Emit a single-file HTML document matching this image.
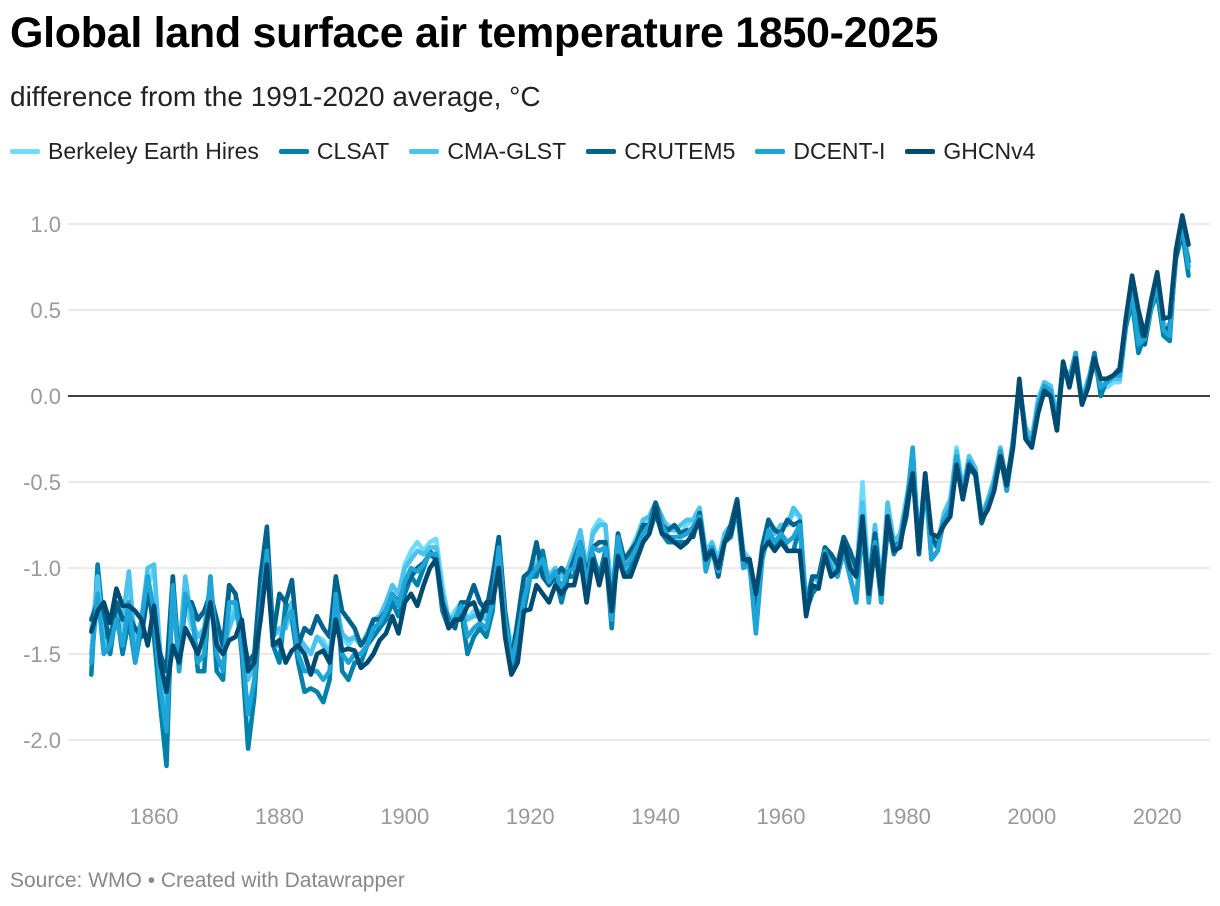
<!DOCTYPE html>
<html><head><meta charset="utf-8">
<style>
body{margin:0;width:1220px;height:906px;background:#fff;font-family:"Liberation Sans",Arial,sans-serif;overflow:hidden;position:relative}
#title{position:absolute;left:10px;top:9px;font-size:43px;font-weight:bold;color:#000;letter-spacing:-0.3px}
#subtitle{position:absolute;left:10px;top:81px;font-size:28px;color:#222}
#legend{position:absolute;left:10px;top:138px;font-size:23px;color:#222;display:flex;gap:20px}
.li{display:flex;align-items:center}
.sw{width:30px;height:5px;margin-right:8px;border-radius:2px}
#source{position:absolute;left:10px;top:869px;font-size:21px;color:#888}
svg{position:absolute;left:0;top:0}
</style></head><body>
<div id="title">Global land surface air temperature 1850-2025</div>
<div id="subtitle">difference from the 1991-2020 average, °C</div>
<div id="legend">
<div class="li"><span class="sw" style="background:#6fdcfd"></span>Berkeley Earth Hires</div>
<div class="li"><span class="sw" style="background:#0082aa"></span>CLSAT</div>
<div class="li"><span class="sw" style="background:#4cc3ee"></span>CMA-GLST</div>
<div class="li"><span class="sw" style="background:#00648d"></span>CRUTEM5</div>
<div class="li"><span class="sw" style="background:#1ea4d6"></span>DCENT-I</div>
<div class="li"><span class="sw" style="background:#004b72"></span>GHCNv4</div>
</div>
<svg id="chart" width="1220" height="906"></svg>
<div id="source">Source: WMO • Created with Datawrapper</div>
<script>
const startYear = 1850;
const yTicks = [1.0, 0.5, 0.0, -0.5, -1.0, -1.5, -2.0];
const yTickLabels = ["1.0","0.5","0.0","-0.5","-1.0","-1.5","-2.0"];
const xTicks = [1860,1880,1900,1920,1940,1960,1980,2000,2020];
const seriesNames = ["Berkeley Earth Hires","CLSAT","CMA-GLST","CRUTEM5","DCENT-I","GHCNv4"];
const seriesColors = ["#6fdcfd","#0082aa","#4cc3ee","#00648d","#1ea4d6","#004b72"];

const ghcn = [
-1.37,-1.25,-1.2,-1.32,-1.12,-1.22,-1.22,-1.25,-1.3,-1.45,
-1.22,-1.55,-1.72,-1.45,-1.55,-1.35,-1.42,-1.5,-1.38,-1.2,
-1.45,-1.5,-1.42,-1.4,-1.3,-1.6,-1.55,-1.3,-0.98,-1.45,
-1.42,-1.55,-1.48,-1.45,-1.5,-1.62,-1.5,-1.48,-1.55,-1.3,
-1.48,-1.47,-1.48,-1.58,-1.55,-1.5,-1.42,-1.38,-1.28,-1.38,
-1.2,-1.15,-1.22,-1.1,-1.0,-0.95,-1.2,-1.35,-1.3,-1.3,
-1.22,-1.2,-1.3,-1.2,-1.2,-1.0,-1.4,-1.62,-1.55,-1.25,
-1.24,-1.1,-1.15,-1.2,-1.1,-1.15,-1.1,-1.1,-0.95,-1.2,
-0.95,-1.1,-0.95,-1.25,-0.93,-1.05,-1.05,-0.95,-0.85,-0.8,
-0.65,-0.8,-0.82,-0.85,-0.88,-0.85,-0.8,-0.72,-0.95,-0.9,
-1.0,-0.85,-0.8,-0.62,-0.95,-0.95,-1.15,-0.9,-0.85,-0.9,
-0.85,-0.9,-0.9,-0.9,-1.28,-1.1,-1.12,-0.92,-1.05,-1.02,
-0.85,-1.0,-1.05,-0.7,-1.15,-0.88,-1.15,-0.7,-0.9,-0.88,
-0.65,-0.45,-0.9,-0.45,-0.8,-0.82,-0.75,-0.7,-0.4,-0.6,
-0.4,-0.45,-0.72,-0.66,-0.55,-0.35,-0.52,-0.3,0.1,-0.25,
-0.3,-0.1,0.03,0.0,-0.2,0.2,0.05,0.22,-0.05,0.05,
0.22,0.1,0.1,0.12,0.15,0.45,0.7,0.5,0.35,0.55,
0.72,0.45,0.46,0.85,1.05,0.88];

const crutem = [
-1.3,-1.2,-1.25,-1.45,-1.2,-1.3,-1.28,-1.35,-1.4,-1.15,
-1.3,-1.5,-1.6,-1.05,-1.55,-1.2,-1.2,-1.3,-1.25,-1.15,
-1.3,-1.45,-1.1,-1.15,-1.35,-1.55,-1.5,-1.05,-0.76,-1.4,
-1.15,-1.2,-1.07,-1.45,-1.35,-1.38,-1.28,-1.35,-1.4,-1.05,
-1.25,-1.3,-1.35,-1.45,-1.4,-1.3,-1.3,-1.25,-1.15,-1.2,
-1.1,-1.05,-1.0,-0.97,-0.92,-0.95,-1.2,-1.3,-1.35,-1.2,
-1.2,-1.1,-1.2,-1.25,-1.05,-0.82,-1.25,-1.55,-1.3,-1.05,
-1.02,-0.85,-1.05,-1.1,-1.05,-1.0,-1.05,-0.95,-0.85,-1.05,
-0.88,-0.85,-0.85,-1.25,-0.8,-0.95,-0.9,-0.85,-0.75,-0.75,
-0.62,-0.75,-0.78,-0.75,-0.8,-0.78,-0.82,-0.68,-0.95,-0.88,
-1.05,-0.85,-0.75,-0.6,-0.95,-1.0,-1.25,-0.88,-0.72,-0.78,
-0.8,-0.72,-0.75,-0.73,-1.25,-1.05,-1.05,-0.88,-0.92,-0.98,
-0.82,-0.9,-1.0,-0.78,-1.1,-0.8,-1.15,-0.78,-0.88,-0.85,
-0.7,-0.42,-0.92,-0.48,-0.82,-0.88,-0.72,-0.68,-0.38,-0.6,
-0.42,-0.46,-0.74,-0.64,-0.52,-0.32,-0.5,-0.28,0.05,-0.22,
-0.28,-0.08,0.02,0.0,-0.2,0.18,0.08,0.2,-0.03,0.06,
0.2,0.05,0.08,0.12,0.16,0.42,0.62,0.45,0.3,0.5,
0.65,0.38,0.4,0.8,0.95,0.78];

const clsat = [
-1.62,-0.98,-1.35,-1.5,-1.25,-1.5,-1.3,-1.55,-1.35,-1.05,
-1.4,-1.8,-2.15,-1.05,-1.6,-1.2,-1.2,-1.6,-1.6,-1.05,
-1.6,-1.65,-1.1,-1.15,-1.5,-2.05,-1.75,-1.2,-0.8,-1.45,
-1.55,-1.2,-1.3,-1.55,-1.72,-1.7,-1.72,-1.78,-1.65,-1.05,
-1.6,-1.65,-1.55,-1.55,-1.45,-1.4,-1.35,-1.3,-1.2,-1.28,
-1.15,-1.05,-1.1,-1.0,-0.9,-0.95,-1.25,-1.35,-1.3,-1.25,
-1.5,-1.4,-1.35,-1.4,-1.25,-0.85,-1.35,-1.58,-1.45,-1.25,
-1.05,-1.05,-0.9,-1.1,-1.05,-1.2,-1.05,-1.05,-0.9,-1.15,
-0.92,-1.05,-0.9,-1.35,-0.85,-1.05,-1.0,-0.9,-0.85,-0.8,
-0.68,-0.8,-0.85,-0.85,-0.85,-0.85,-0.8,-0.72,-1.0,-0.9,
-0.98,-0.85,-0.82,-0.65,-1.0,-0.95,-1.35,-0.95,-0.8,-0.9,
-0.8,-0.9,-0.9,-0.75,-1.25,-1.15,-1.1,-0.9,-1.0,-1.05,
-0.9,-1.05,-1.2,-0.75,-1.2,-0.85,-1.2,-0.72,-0.92,-0.85,
-0.68,-0.4,-0.92,-0.5,-0.95,-0.9,-0.7,-0.65,-0.35,-0.58,
-0.38,-0.45,-0.72,-0.62,-0.5,-0.35,-0.55,-0.3,0.05,-0.2,
-0.25,-0.05,0.05,0.02,-0.15,0.15,0.1,0.25,-0.05,0.08,
0.25,0.0,0.1,0.12,0.1,0.4,0.55,0.25,0.35,0.5,
0.6,0.35,0.32,0.85,0.95,0.7];

const berkeley = [
-1.35,-1.1,-1.45,-1.4,-1.2,-1.35,-1.05,-1.5,-1.35,-1.1,
-1.0,-1.55,-1.75,-1.2,-1.5,-1.2,-1.35,-1.4,-1.4,-1.1,
-1.4,-1.5,-1.3,-1.2,-1.35,-1.6,-1.5,-1.15,-0.85,-1.35,
-1.38,-1.3,-1.2,-1.45,-1.45,-1.5,-1.4,-1.42,-1.5,-1.2,
-1.4,-1.45,-1.4,-1.45,-1.4,-1.3,-1.3,-1.2,-1.1,-1.15,
-0.98,-0.9,-0.85,-0.9,-0.85,-0.83,-1.1,-1.3,-1.25,-1.2,
-1.3,-1.25,-1.25,-1.3,-1.15,-0.9,-1.25,-1.45,-1.35,-1.1,
-1.0,-0.95,-0.95,-1.05,-1.0,-1.05,-1.0,-0.95,-0.8,-1.05,
-0.78,-0.72,-0.75,-1.15,-0.82,-0.95,-0.92,-0.85,-0.72,-0.72,
-0.65,-0.72,-0.75,-0.78,-0.8,-0.75,-0.72,-0.65,-0.9,-0.85,
-0.95,-0.8,-0.75,-0.6,-0.9,-0.95,-1.2,-0.9,-0.72,-0.8,
-0.75,-0.75,-0.68,-0.7,-1.2,-1.05,-1.05,-0.9,-0.95,-1.0,
-0.85,-0.92,-1.05,-0.5,-1.1,-0.75,-1.1,-0.65,-0.88,-0.8,
-0.62,-0.35,-0.85,-0.45,-0.85,-0.88,-0.7,-0.62,-0.3,-0.55,
-0.35,-0.42,-0.7,-0.6,-0.5,-0.3,-0.55,-0.25,0.08,-0.2,
-0.25,-0.05,0.08,0.05,-0.12,0.15,0.1,0.2,-0.05,0.1,
0.2,0.05,0.05,0.08,0.08,0.4,0.6,0.35,0.3,0.5,
0.65,0.4,0.38,0.82,0.98,0.8];

const cma = [
-1.5,-1.05,-1.45,-1.4,-1.25,-1.3,-1.02,-1.45,-1.3,-1.0,
-0.98,-1.5,-1.8,-1.15,-1.5,-1.05,-1.3,-1.4,-1.35,-1.08,
-1.4,-1.48,-1.35,-1.25,-1.4,-1.65,-1.55,-1.2,-0.85,-1.4,
-1.35,-1.35,-1.2,-1.4,-1.45,-1.5,-1.4,-1.45,-1.5,-1.2,
-1.38,-1.42,-1.4,-1.45,-1.38,-1.3,-1.28,-1.2,-1.1,-1.15,
-1.0,-0.95,-0.9,-0.92,-0.88,-0.88,-1.15,-1.3,-1.28,-1.2,
-1.3,-1.28,-1.28,-1.3,-1.15,-0.92,-1.3,-1.5,-1.38,-1.1,
-1.02,-0.98,-0.95,-1.05,-1.0,-1.05,-1.0,-0.9,-0.78,-1.0,
-0.8,-0.75,-0.75,-1.2,-0.8,-0.95,-0.9,-0.82,-0.72,-0.7,
-0.62,-0.7,-0.78,-0.78,-0.75,-0.72,-0.72,-0.65,-0.92,-0.85,
-0.98,-0.8,-0.75,-0.6,-0.92,-0.95,-1.22,-0.88,-0.72,-0.8,
-0.75,-0.75,-0.65,-0.7,-1.2,-1.05,-1.08,-0.88,-0.95,-1.0,
-0.85,-0.92,-1.05,-0.62,-1.1,-0.75,-1.12,-0.62,-0.85,-0.8,
-0.6,-0.38,-0.85,-0.45,-0.88,-0.85,-0.68,-0.6,-0.32,-0.55,
-0.35,-0.42,-0.7,-0.6,-0.48,-0.3,-0.52,-0.25,0.06,-0.18,
-0.25,-0.02,0.08,0.06,-0.12,0.18,0.1,0.25,-0.02,0.1,
0.2,0.05,0.08,0.1,0.1,0.45,0.62,0.35,0.32,0.52,
0.68,0.42,0.4,0.82,1.0,0.78];

const dcent = [
-1.55,-1.15,-1.5,-1.45,-1.3,-1.45,-1.2,-1.55,-1.3,-1.05,
-1.25,-1.7,-1.95,-1.1,-1.6,-1.15,-1.25,-1.55,-1.5,-1.05,
-1.5,-1.6,-1.2,-1.2,-1.45,-1.85,-1.65,-1.25,-0.9,-1.45,
-1.45,-1.3,-1.25,-1.5,-1.6,-1.6,-1.6,-1.65,-1.6,-1.15,
-1.5,-1.55,-1.5,-1.5,-1.45,-1.35,-1.32,-1.25,-1.15,-1.22,
-1.08,-1.0,-1.02,-0.98,-0.92,-0.92,-1.2,-1.32,-1.3,-1.22,
-1.4,-1.35,-1.32,-1.35,-1.2,-0.88,-1.3,-1.55,-1.4,-1.18,
-1.05,-1.0,-0.95,-1.08,-1.02,-1.12,-1.02,-1.0,-0.85,-1.1,
-0.88,-0.9,-0.88,-1.3,-0.82,-1.0,-0.95,-0.88,-0.8,-0.75,
-0.65,-0.75,-0.82,-0.82,-0.82,-0.8,-0.76,-0.7,-1.02,-0.88,
-1.02,-0.85,-0.8,-0.65,-1.0,-0.98,-1.38,-0.95,-0.78,-0.85,
-0.8,-0.85,-0.82,-0.75,-1.25,-1.12,-1.1,-0.9,-1.0,-1.05,
-0.9,-1.05,-1.2,-0.72,-1.2,-0.85,-1.2,-0.7,-0.9,-0.85,
-0.65,-0.3,-0.9,-0.48,-0.95,-0.9,-0.72,-0.65,-0.35,-0.58,
-0.38,-0.45,-0.72,-0.62,-0.52,-0.32,-0.55,-0.28,0.08,-0.22,
-0.28,-0.05,0.06,0.03,-0.15,0.18,0.1,0.25,-0.05,0.08,
0.22,0.05,0.08,0.12,0.12,0.42,0.6,0.3,0.33,0.5,
0.65,0.38,0.35,0.85,0.98,0.75];

const seriesData = [berkeley, clsat, cma, crutem, dcent, ghcn];

const svg = document.getElementById('chart');
const NS = 'http://www.w3.org/2000/svg';
function xScale(yr){ return 91.3 + (yr - 1850) * 6.27; }
function yScale(v){ return 396 - v * 172; }
function mk(tag, attrs){ const e = document.createElementNS(NS, tag); for (const k in attrs) e.setAttribute(k, attrs[k]); svg.appendChild(e); return e; }

yTicks.forEach((t, i) => {
  const y = yScale(t);
  const g = mk('line', {x1: 68, x2: 1210, y1: y, y2: y, stroke: t === 0 ? '#000' : '#e3e3e3', 'stroke-width': t === 0 ? 1.6 : 1.5});
  
  
  const lb = mk('text', {x: 61, y: y + 8, 'text-anchor': 'end', fill: '#999', 'font-size': 22, 'font-family': 'Liberation Sans, sans-serif'});
  lb.textContent = yTickLabels[i];
  
  
});
xTicks.forEach(t => {
  const lb = mk('text', {x: xScale(t), y: 824, 'text-anchor': 'middle', fill: '#999', 'font-size': 22, 'font-family': 'Liberation Sans, sans-serif'});
  lb.textContent = t;
  
  
});
seriesData.forEach((arr, si) => {
  const pts = arr.map((v, i) => xScale(startYear + i).toFixed(1) + ',' + yScale(v).toFixed(1)).join(' ');
  const pl = mk('polyline', {points: pts, fill: 'none', stroke: seriesColors[si], 'stroke-width': 4.6, 'stroke-linejoin': 'round', 'stroke-linecap': 'round'});
  
  
});
</script>
</body></html>
